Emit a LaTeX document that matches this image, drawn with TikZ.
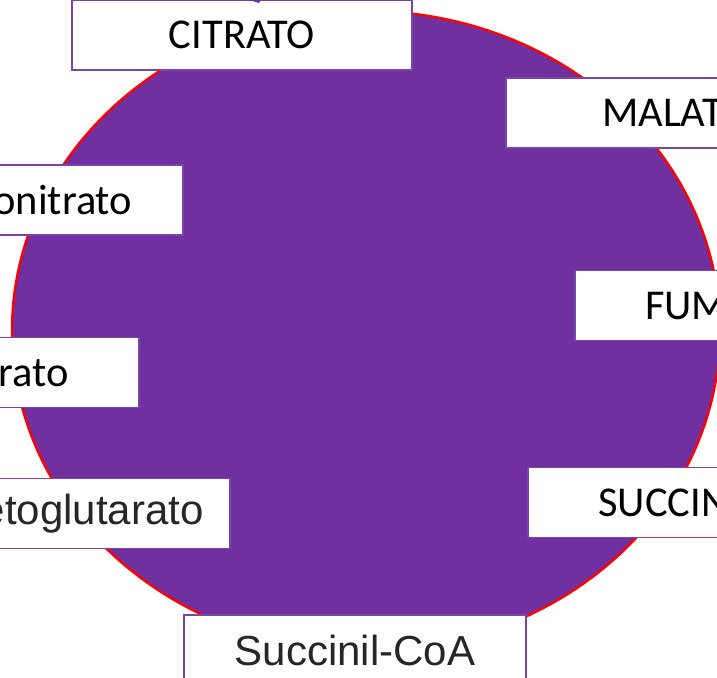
\documentclass[tikz,border=0pt]{standalone}
\usepackage{fontspec}
\setmainfont{Carlito}
\newfontfamily\arialfont{Liberation Sans}
\definecolor{cpurple}{HTML}{7030A0}
\definecolor{cborder}{HTML}{7A45A8}
\definecolor{ctext}{HTML}{262626}
\begin{document}
\begin{tikzpicture}[x=1pt,y=-1pt,
 box/.style={draw=cborder, line width=1.5pt, fill=white, inner sep=0pt, minimum width=340pt, minimum height=70pt, font=\fontsize{42.5}{50}\selectfont, text=black},
 abox/.style={box, font=\arialfont\fontsize{42}{50}\selectfont, text=ctext}]
\useasboundingbox (0,0) rectangle (717,677);
\clip (0,0) rectangle (717,677);
\fill[white] (0,0) rectangle (717,677);
\draw[red, line width=2.4pt, fill=cpurple] (366,331) ellipse [x radius=354, y radius=320];
\node[box] (citrato) at (242,35) {CITRATO};
\node[box] (malato) at (676,113) {MALATO};
\node[box] (fumarato) at (745,305.5) {FUMARATO};
\node[box] (succinato) at (698,502.5) {SUCCINATO};
\node[abox, minimum width=342pt] (succoa) at (355,650) {Succinil-CoA};
\node[abox, minimum width=334pt] (akg) at (63,513.5) {α-cetoglutarato};
\node[box, minimum width=302pt] (isocitrato) at (-12,372.5) {Isocitrato};
\node[box] (aconitato) at (13,200) {cis-Aconitrato};
\fill[cpurple] (249,0) -- (261,0) -- (259,3) -- cycle;
\end{tikzpicture}
\end{document}
